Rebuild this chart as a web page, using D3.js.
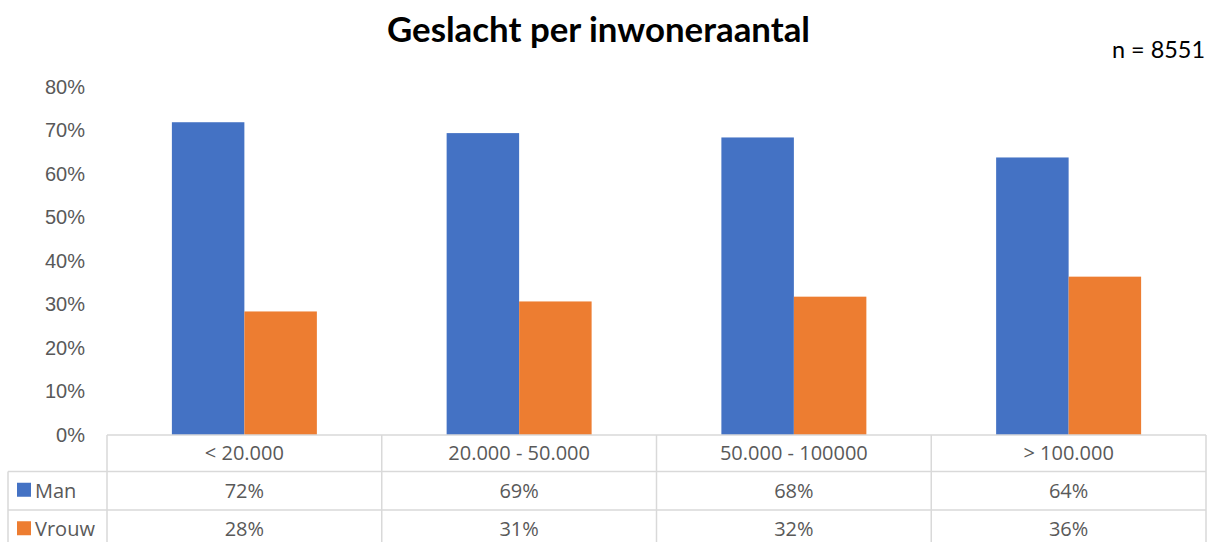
<!DOCTYPE html>
<html>
<head>
<meta charset="utf-8">
<script src="https://cdn.jsdelivr.net/npm/d3@7"></script>
<style>
  body { margin: 0; background: #fff; }
  svg { display: block; font-family: "Open Sans", sans-serif; }
</style>
</head>
<body>
<svg id="chart" width="1219" height="542"></svg>
<script>
const categories = ["< 20.000", "20.000 - 50.000", "50.000 - 100000", "> 100.000"];
const seriesNames = ["Man", "Vrouw"];
const man = [0.719, 0.694, 0.684, 0.638];
const vrouw = [0.284, 0.307, 0.318, 0.364];
const yTicks = [0, 0.1, 0.2, 0.3, 0.4, 0.5, 0.6, 0.7, 0.8];
const colors = ["#4472C4", "#ED7D31"];

const series = [man, vrouw];
const svg = d3.select('#chart');
const plotLeft = 107, plotRight = 1206, plotTop = 87, base = 435;
const rowH = [36.5, 38.5, 38.5];
const tableLeft = 8;
const grey = "#595959", lineCol = "#D9D9D9";
const pct = d3.format(".0%");

const x = d3.scaleBand().domain(categories).range([plotLeft, plotRight]);
const x1 = d3.scaleBand().domain(seriesNames).range([0, x.bandwidth()]).paddingOuter(0.895);
const y = d3.scaleLinear().domain([0, 0.8]).range([base, plotTop]);

// title + n
svg.append("text").attr("x", 387).attr("y", 42)
    .attr("textLength", 423).attr("lengthAdjust", "spacingAndGlyphs")
    .style("font-family", "Lato, sans-serif")
    .style("font-size", "34px").style("font-weight", "bold").text("Geslacht per inwoneraantal");
svg.append("text").attr("x", 1112).attr("y", 58)
    .attr("textLength", 93).attr("lengthAdjust", "spacingAndGlyphs")
    .style("font-family", "Lato, sans-serif")
    .style("font-size", "23px").text("n = 8551");

// y axis labels, no line
const yAxis = d3.axisLeft(y).tickValues(yTicks).tickFormat(pct).tickSize(0).tickPadding(0);
const ya = svg.append("g").attr("transform", "translate(85,0)").call(yAxis);
ya.select(".domain").remove();
ya.selectAll("text").style("font-size", "20px").style("fill", grey).style("font-family", "inherit");

// bars
seriesNames.forEach((s, si) => {
    svg.append("g").selectAll("rect").data(series[si]).join("rect")
        .attr("x", (d, i) => x(categories[i]) + x1(s))
        .attr("y", d => y(d))
        .attr("width", x1.bandwidth())
        .attr("height", d => base - y(d))
        .attr("fill", colors[si]);
});

// data table
const t = svg.append("g").attr("stroke", lineCol).attr("stroke-width", 1.5).attr("fill", "none");
const r1 = base + rowH[0], r2 = r1 + rowH[1], r3 = r2 + rowH[2];
t.append("line").attr("x1", plotLeft).attr("x2", plotRight).attr("y1", base).attr("y2", base);
[r1, r2].forEach(yy => t.append("line").attr("x1", tableLeft).attr("x2", plotRight).attr("y1", yy).attr("y2", yy));
t.append("line").attr("x1", tableLeft).attr("x2", tableLeft).attr("y1", r1).attr("y2", r3);
const edges = categories.map(c => x(c)).concat([plotRight]);
edges.forEach(xx => t.append("line").attr("x1", xx).attr("x2", xx).attr("y1", base).attr("y2", r3));

const txt = svg.append("g").style("font-size", "20px").style("fill", grey).attr("text-anchor", "middle");
txt.selectAll(".hdr").data(categories).join("text")
    .attr("x", d => x(d) + x.bandwidth() / 2).attr("y", base + rowH[0] / 2 + 7).text(d => d);
const rowMid = [r1 + rowH[1] / 2 + 7, r2 + rowH[2] / 2 + 7];
seriesNames.forEach((s, si) => {
    txt.append("g").selectAll("text").data(series[si]).join("text")
        .attr("x", (d, i) => x(categories[i]) + x.bandwidth() / 2)
        .attr("y", rowMid[si]).text(d => pct(d));
    svg.append("rect").attr("x", 17).attr("y", rowMid[si] - 15).attr("width", 14).attr("height", 14)
        .attr("fill", colors[si]);
    svg.append("text").attr("x", 35).attr("y", rowMid[si]).style("font-size", "20px")
        .style("fill", grey).text(s);
});
</script>
</body>
</html>
